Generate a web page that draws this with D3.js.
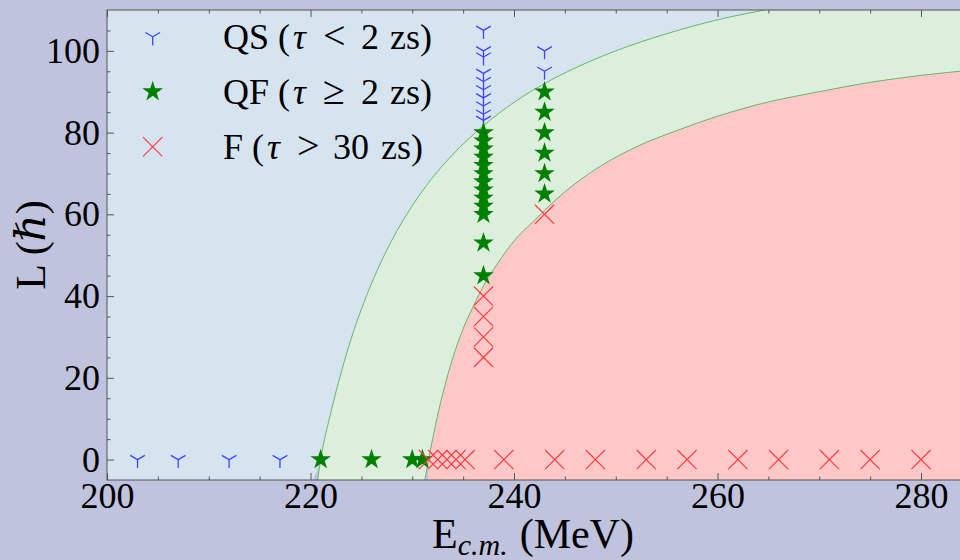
<!DOCTYPE html>
<html><head><meta charset="utf-8">
<script src="https://cdn.jsdelivr.net/npm/d3@7"></script>
<style>html,body{margin:0;padding:0;background:#bfc3dd;} svg{display:block}</style>
</head><body>
<svg id="chart" width="960" height="560"></svg>
<script>
// ---------------- data ----------------
// QS (tau < 2 zs) points
const qsE = [203, 207, 212, 217, 237, 237, 237, 237, 237, 237, 237, 237, 237, 237, 243, 243];
const qsL = [0, 0, 0, 0, 105, 100, 98.5, 94.5, 92.5, 90.5, 88.5, 86.5, 84.5, 83, 100, 95];
// QF (tau >= 2 zs) points
const qfE = [221, 226, 230, 231, 237, 237, 237, 237, 237, 237, 237, 237, 237, 237, 237, 237, 237, 243, 243, 243, 243, 243, 243];
const qfL = [0, 0, 0, 0, 80, 78, 76, 74, 72, 70, 68, 66, 64, 62, 60, 53, 45, 90, 85, 80, 75, 70, 65];
// F (tau > 30 zs) points
const fE = [231.6, 232.5, 233.4, 234.3, 235.2, 239, 244, 248, 253, 257, 262, 266, 271, 275, 280, 237, 237, 237, 237, 243];
const fL = [0, 0, 0, 0, 0, 0, 0, 0, 0, 0, 0, 0, 0, 0, 0, 40, 35, 30, 25, 60];
// boundary QS / QF
const upE = [220.7, 221, 222, 223, 224, 225, 226, 228, 230, 232, 234, 237, 240, 243, 246, 250, 255, 260, 265, 270, 285];
const upL = [-5, 0, 11.5, 21.2, 29.6, 36.8, 43.1, 53.7, 62.1, 69.0, 74.7, 81.7, 87.4, 92.0, 95.8, 100.0, 104.2, 107.6, 110.2, 112.6, 118];
// boundary QF / F
const loE = [231.24, 231.6, 232, 232.5, 233, 234, 235, 236, 237, 238, 240, 242, 243, 245, 248, 252, 256, 260, 265, 270, 275, 280, 285];
const loL = [-5, 0, 5, 10.9, 16.1, 25, 32, 37.5, 42.5, 46.5, 53.5, 58.5, 61, 65.5, 71, 76.5, 80.5, 84, 87.5, 90, 92.3, 94, 95.3];
// fill feet (where the shaded areas meet the bottom edge)
const blueFoot = [220.25, -5];
const redFoot = [231.55, -5];
// ticks
const xMajorTicks = [200, 220, 240, 260, 280];
const yMajorTicks = [0, 20, 40, 60, 80, 100];
const xMinorTicks = [205, 210, 215, 225, 230, 235, 245, 250, 255, 265, 270, 275];
const yMinorTicks = [5, 10, 15, 25, 30, 35, 45, 50, 55, 65, 70, 75, 85, 90, 95, 105];
const legendLabels = [["QS (", "τ", "<", "2", "zs)"], ["QF (", "τ", "≥", "2", "zs)"], ["F (", "τ", ">", "30", "zs)"]];

// ---------------- layout ----------------
const W = 960, H = 560;
const FONT = "'Liberation Serif','DejaVu Serif','Times New Roman',serif";
const svg = d3.select('#chart');
svg.append('rect').attr('width', W).attr('height', H).attr('fill', '#bfc3dd');

const x = d3.scaleLinear().domain([200, 285]).range([107, 971.9]);
const y = d3.scaleLinear().domain([-5, 110]).range([480, 10]);
const [x0, x1] = x.range(), [yb, yt] = y.range();

svg.append('defs').append('clipPath').attr('id', 'clip')
  .append('rect').attr('x', x0).attr('y', yt).attr('width', x1 - x0).attr('height', yb - yt);

const plot = svg.append('g').attr('clip-path', 'url(#clip)');
const line = d3.line().x(d => x(d[0])).y(d => y(d[1])).curve(d3.curveMonotoneX);
const up = upE.map((e, i) => [e, upL[i]]);
const lo = loE.map((e, i) => [e, loL[i]]);
const P = (e, l) => x(e) + ',' + y(l);

// blue region
const bluePts = [blueFoot].concat(up.slice(1));
plot.append('path').attr('fill', '#d6e4f0')
  .attr('d', line(bluePts) + 'L' + P(285, 130) + 'L' + P(200, 130) + 'L' + P(200, -5) + 'L' + P(blueFoot[0], blueFoot[1]) + 'Z');
// green region
plot.append('path').attr('fill', '#dcefdc')
  .attr('d', line(up) + 'L' + line(lo.slice().reverse()).slice(1) + 'Z');
// red region
const redPts = [redFoot].concat(lo.slice(1));
plot.append('path').attr('fill', '#ffc8c8')
  .attr('d', line(redPts) + 'L' + P(285, -5) + 'Z');
// boundary lines
plot.append('path').attr('fill', 'none').attr('stroke', '#6cb46c').attr('stroke-width', 1).attr('d', line(up));
plot.append('path').attr('fill', 'none').attr('stroke', '#6cb46c').attr('stroke-width', 1).attr('d', line(lo));

// markers
const triPath = r => `M0,0L0,${r}M0,0L${-0.866 * r},${-0.5 * r}M0,0L${0.866 * r},${-0.5 * r}`;
const xPath = h => `M${-h},${-h}L${h},${h}M${-h},${h}L${h},${-h}`;
const starPath = d3.symbol(d3.symbolStar, 132)();
const BLUE = '#4044ff', GREEN = '#008000', RED = '#ff3c3c';

const mk = svg.append('g');
mk.selectAll('path.qs').data(qsE.map((e, i) => [e, qsL[i]])).join('path')
  .attr('class', 'qs').attr('transform', d => `translate(${x(d[0])},${y(d[1])})`)
  .attr('d', triPath(8.5)).attr('fill', 'none').attr('stroke', BLUE).attr('stroke-width', 1.3);
mk.selectAll('path.qf').data(qfE.map((e, i) => [e, qfL[i]])).join('path')
  .attr('class', 'qf').attr('transform', d => `translate(${x(d[0])},${y(d[1])})`)
  .attr('d', starPath).attr('fill', GREEN);
mk.selectAll('path.ff').data(fE.map((e, i) => [e, fL[i]])).join('path')
  .attr('class', 'ff').attr('transform', d => `translate(${x(d[0])},${y(d[1])})`)
  .attr('d', xPath(9.6)).attr('fill', 'none').attr('stroke', RED).attr('stroke-width', 1.2);

// axes (inward ticks)
const AX = '#555';
function styleAxis(g) {
  g.select('.domain').remove();
  g.selectAll('line').attr('stroke', AX).attr('stroke-width', 1);
  g.selectAll('text').attr('fill', '#000').style('font-family', FONT).style('font-size', '36px');
}
svg.append('g').attr('transform', `translate(0,${yb})`)
  .call(d3.axisBottom(x).tickValues(xMajorTicks).tickSize(-7).tickPadding(2).tickFormat(d3.format('d'))).call(styleAxis);
svg.append('g').attr('transform', `translate(0,${yb})`)
  .call(d3.axisBottom(x).tickValues(xMinorTicks).tickSize(-3.5).tickFormat('')).call(styleAxis);
svg.append('g').attr('transform', `translate(0,${yt})`)
  .call(d3.axisTop(x).tickValues(xMajorTicks).tickSize(-7).tickFormat('')).call(styleAxis);
svg.append('g').attr('transform', `translate(0,${yt})`)
  .call(d3.axisTop(x).tickValues(xMinorTicks).tickSize(-3.5).tickFormat('')).call(styleAxis);
svg.append('g').attr('transform', `translate(${x0},0)`)
  .call(d3.axisLeft(y).tickValues(yMajorTicks).tickSize(-7).tickPadding(7).tickFormat(d3.format('d'))).call(styleAxis);
svg.append('g').attr('transform', `translate(${x0},0)`)
  .call(d3.axisLeft(y).tickValues(yMinorTicks).tickSize(-3.5).tickFormat('')).call(styleAxis);
// frame
svg.append('rect').attr('x', x0).attr('y', yt).attr('width', x1 - x0).attr('height', yb - yt)
  .attr('fill', 'none').attr('stroke', AX).attr('stroke-width', 1);

// axis labels
const xl = svg.append('text').attr('x', 432).attr('y', 548)
  .style('font-family', FONT).style('font-size', '42px').attr('fill', '#000');
xl.append('tspan').text('E');
xl.append('tspan').attr('dy', 7).style('font-size', '30px').style('font-style', 'italic').text('c.m.');
xl.append('tspan').attr('dy', -7).attr('dx', 12).text('(MeV)');

const yl = svg.append('text').attr('transform', 'translate(45,245) rotate(-90)').attr('text-anchor', 'middle')
  .style('font-family', FONT).style('font-size', '42px').attr('fill', '#000');
yl.append('tspan').text('L (');
yl.append('tspan').style('font-style', 'italic').text('ℏ');
yl.append('tspan').text(')');

// legend
const legX = 152.7, legTx = 223, legY = [36.7, 91.7, 146.7];
const offs = [[0, 70, 100, 138, 167], [0, 70, 100, 138, 167], [0, 44, 74, 110, 158]];
const leg = svg.append('g');
leg.append('path').attr('transform', `translate(${legX},${legY[0]})`).attr('d', triPath(8.5))
  .attr('fill', 'none').attr('stroke', BLUE).attr('stroke-width', 1.3);
leg.append('path').attr('transform', `translate(${legX},${legY[1]})`).attr('d', starPath).attr('fill', GREEN);
leg.append('path').attr('transform', `translate(${legX},${legY[2]})`).attr('d', xPath(9.6))
  .attr('fill', 'none').attr('stroke', RED).attr('stroke-width', 1.2);
legendLabels.forEach((segs, r) => {
  segs.forEach((s, k) => {
    leg.append('text').attr('x', legTx + offs[r][k]).attr('y', legY[r] + 12.5)
      .style('font-family', FONT).style('font-size', k === 2 ? '40px' : '36px').style('font-style', k === 1 ? 'italic' : 'normal')
      .attr('fill', '#000').text(s);
  });
});
</script>
</body></html>
